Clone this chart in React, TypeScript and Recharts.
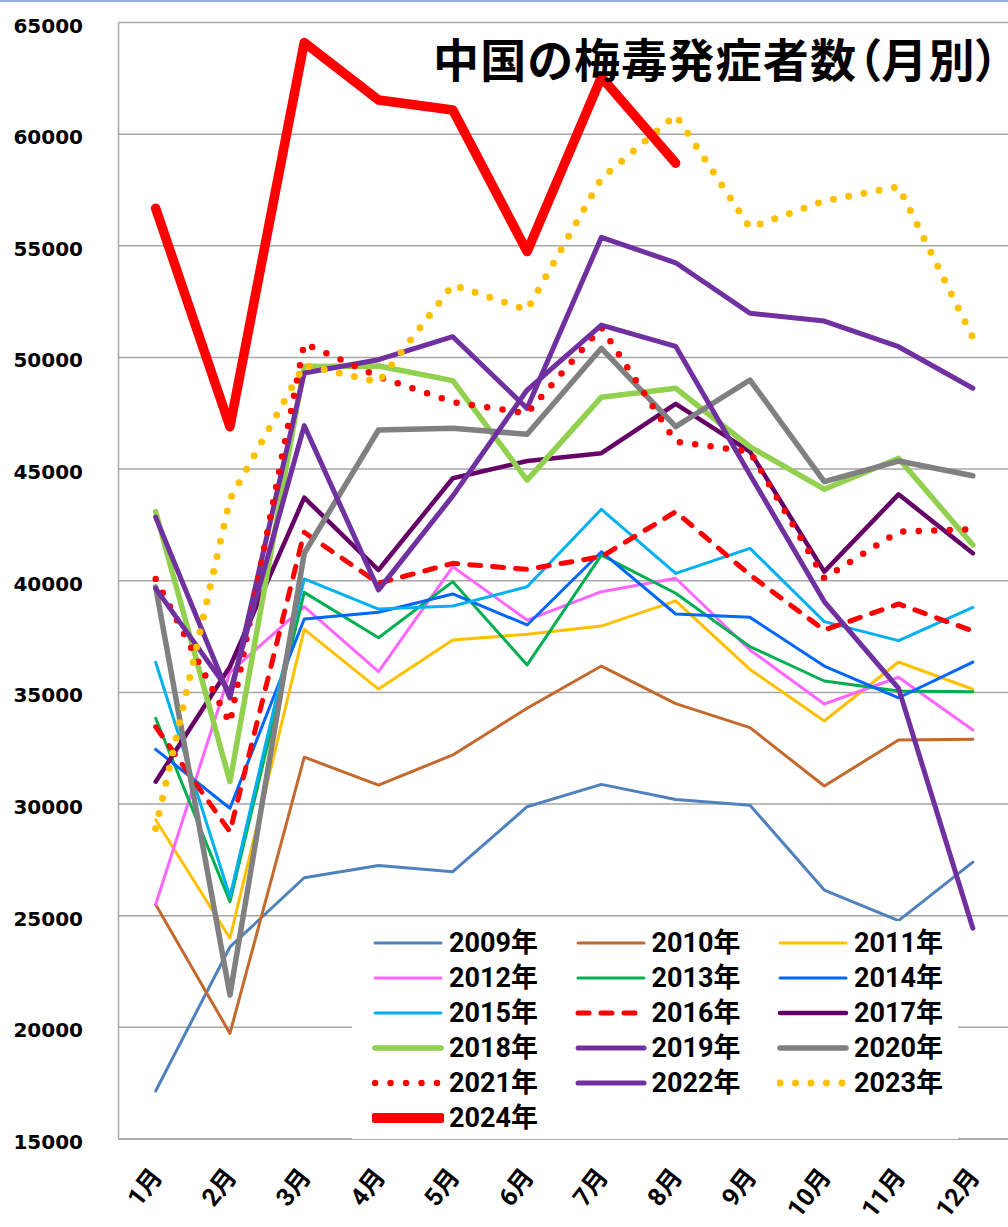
import React from "react";
import { LineChart, Line, XAxis, YAxis, CartesianGrid, Legend } from "recharts";

// months and y ticks
const MONTHS = ["1月", "2月", "3月", "4月", "5月", "6月", "7月", "8月", "9月", "10月", "11月", "12月"];
const Y_TICKS = [15000, 20000, 25000, 30000, 35000, 40000, 45000, 50000, 55000, 60000, 65000];

// monthly cases per year
const Y2009 = [17150, 23600, 26700, 27250, 26970, 29880, 30880, 30200, 29950, 26150, 24780, 27400];
const Y2010 = [25500, 19730, 32100, 30850, 32200, 34290, 36180, 34500, 33420, 30810, 32870, 32900];
const Y2011 = [29300, 23990, 37820, 35150, 37350, 37600, 37970, 39100, 36030, 33720, 36360, 35140];
const Y2012 = [25500, 35900, 38840, 35930, 40630, 38240, 39510, 40110, 36900, 34480, 35680, 33320];
const Y2013 = [33840, 25630, 39480, 37450, 39960, 36230, 41150, 39440, 37050, 35510, 35060, 35030];
const Y2014 = [32450, 29810, 38290, 38590, 39410, 38020, 41300, 38510, 38360, 36180, 34760, 36360];
const Y2015 = [36350, 25850, 40080, 38730, 38870, 39730, 43200, 40330, 41450, 38170, 37320, 38810];
const Y2016 = [33460, 28760, 42170, 39890, 40780, 40510, 41080, 43090, 40260, 37790, 38960, 37750];
const Y2017 = [31000, 36150, 43720, 40480, 44590, 45360, 45710, 47920, 45780, 40410, 43870, 41230];
const Y2018 = [43090, 31000, 49590, 49620, 48960, 44510, 48220, 48620, 46000, 44100, 45480, 41600];
const Y2019 = [42850, 34750, 49300, 49900, 50930, 47720, 55380, 54240, 51980, 51630, 50480, 48620];
const Y2020 = [39720, 21450, 41230, 46750, 46830, 46560, 50410, 46900, 48990, 44440, 45360, 44700];
const Y2021 = [40080, 33620, 50630, 49140, 48000, 47500, 51350, 46230, 45780, 40110, 42200, 42300];
const Y2022 = [39660, 35000, 46950, 39590, 43800, 48540, 51450, 50500, 44750, 39070, 35180, 24440];
const Y2023 = [28900, 43650, 49660, 48900, 53250, 52130, 58020, 60860, 55810, 57010, 57650, 50890];
const Y2024 = [56680, 46900, 64100, 61530, 61080, 54740, 62550, 58700, null, null, null, null];

const SERIES = [
  { key: "y2009", name: "2009年", values: Y2009, color: "#4F81BD", width: 3 },
  { key: "y2010", name: "2010年", values: Y2010, color: "#C3692E", width: 3 },
  { key: "y2011", name: "2011年", values: Y2011, color: "#FFC000", width: 3 },
  { key: "y2012", name: "2012年", values: Y2012, color: "#FF66FF", width: 3 },
  { key: "y2013", name: "2013年", values: Y2013, color: "#00B050", width: 3 },
  { key: "y2014", name: "2014年", values: Y2014, color: "#0066FF", width: 3 },
  { key: "y2015", name: "2015年", values: Y2015, color: "#00B0F0", width: 3 },
  { key: "y2016", name: "2016年", values: Y2016, color: "#FF0000", width: 5, dash: "11 12" },
  { key: "y2017", name: "2017年", values: Y2017, color: "#660066", width: 4.5 },
  { key: "y2018", name: "2018年", values: Y2018, color: "#92D050", width: 5.5 },
  { key: "y2019", name: "2019年", values: Y2019, color: "#7030A0", width: 5 },
  { key: "y2020", name: "2020年", values: Y2020, color: "#808080", width: 5.5 },
  { key: "y2021", name: "2021年", values: Y2021, color: "#FF0000", width: 6.5, dash: "0 15.5" },
  { key: "y2022", name: "2022年", values: Y2022, color: "#7030A0", width: 5 },
  { key: "y2023", name: "2023年", values: Y2023, color: "#FFC000", width: 7, dash: "0 15.5" },
  { key: "y2024", name: "2024年", values: Y2024, color: "#FF0000", width: 9.5 },
];

const chartData = MONTHS.map((month, i) => {
  const row: any = { month };
  SERIES.forEach((s) => {
    row[s.key] = s.values[i];
  });
  return row;
});

const GRID_COLOR = "#A6A6A6";
const LABEL_FONT = "Roboto, 'Noto Sans CJK JP', sans-serif";

function YTick({ y, payload }: any) {
  return (
    <text x={83} y={y + 10} textAnchor="end" fontFamily="'DejaVu Sans'" fontWeight="bold" fontSize={20} fill="#000">
      {payload.value}
    </text>
  );
}

function XTick({ x, y, payload }: any) {
  const ax = x + 8;
  const ay = y + 30;
  return (
    <text
      x={ax}
      y={ay}
      transform={`rotate(-52 ${ax} ${ay})`}
      textAnchor="end"
      fontFamily={LABEL_FONT}
      fontWeight="bold"
      fontSize={25}
      fill="#000"
    >
      {payload.value}
    </text>
  );
}

// legend box drawn by hand: 3 columns, rows of 35px
function LegendBox() {
  return (
    <div style={{ position: "relative", width: 606, height: 218, background: "#fff" }}>
      {SERIES.map((s, i) => {
        const col = i % 3;
        const row = Math.floor(i / 3);
        const left = 20 + col * 202.5;
        const top = 22.3 + row * 35 - 16;
        return (
          <div key={s.key} style={{ position: "absolute", left, top, height: 32, display: "flex", alignItems: "center" }}>
            <svg width={72} height={32} style={{ display: "block" }}>
              <line
                x1={3}
                x2={69}
                y1={16}
                y2={16}
                stroke={s.color}
                strokeWidth={s.width === 9.5 ? 10 : s.width}
                strokeDasharray={s.dash}
                strokeLinecap="round"
              />
            </svg>
            <span
              style={{
                marginLeft: 5,
                fontFamily: LABEL_FONT,
                fontWeight: "bold",
                fontSize: 27,
                lineHeight: "32px",
                color: "#000",
                whiteSpace: "nowrap",
              }}
            >
              {s.name}
            </span>
          </div>
        );
      })}
    </div>
  );
}

export default function App() {
  return (
    <div style={{ position: "absolute", left: 0, top: 0, width: 1008, height: 1227, overflow: "hidden", background: "#fff" }}>
      <div style={{ position: "absolute", left: 0, top: 0, width: 1008, height: 2, background: "#95B3D7" }} />
      <LineChart width={1010} height={1227} data={chartData} margin={{ top: 22.5, right: 0, bottom: 0, left: 0 }}>
        <CartesianGrid vertical={false} stroke={GRID_COLOR} strokeWidth={1.5} />
        <XAxis
          dataKey="month"
          interval={0}
          height={88}
          padding={{ left: 37.15, right: 37.15 }}
          tickLine={false}
          axisLine={{ stroke: GRID_COLOR, strokeWidth: 1.5 }}
          tick={<XTick />}
        />
        <YAxis
          width={118.5}
          domain={[15000, 65000]}
          ticks={Y_TICKS}
          interval={0}
          tickLine={false}
          axisLine={{ stroke: GRID_COLOR, strokeWidth: 1.5 }}
          tick={<YTick />}
        />
        <Legend
          layout="vertical"
          align="center"
          verticalAlign="middle"
          wrapperStyle={{ left: 352, top: 921, width: 606, height: 218 }}
          content={() => <LegendBox />}
        />
        {SERIES.map((s) => (
          <Line
            key={s.key}
            dataKey={s.key}
            name={s.name}
            stroke={s.color}
            strokeWidth={s.width}
            strokeDasharray={s.dash}
            strokeLinecap="round"
            strokeLinejoin="round"
            dot={false}
            activeDot={false}
            connectNulls={false}
            isAnimationActive={false}
          />
        ))}
      </LineChart>
      <svg style={{ position: "absolute", left: 0, top: 0, pointerEvents: "none" }} width={1008} height={100}>
        <text
          x={433}
          y={77}
          fontFamily="'Noto Sans CJK JP'"
          fontWeight="bold"
          fontSize={46}
          letterSpacing={1.2}
          fill="#000"
          style={{ fontFeatureSettings: "'palt'" }}
        >
          中国の梅毒発症者数（月別）
        </text>
      </svg>
    </div>
  );
}
